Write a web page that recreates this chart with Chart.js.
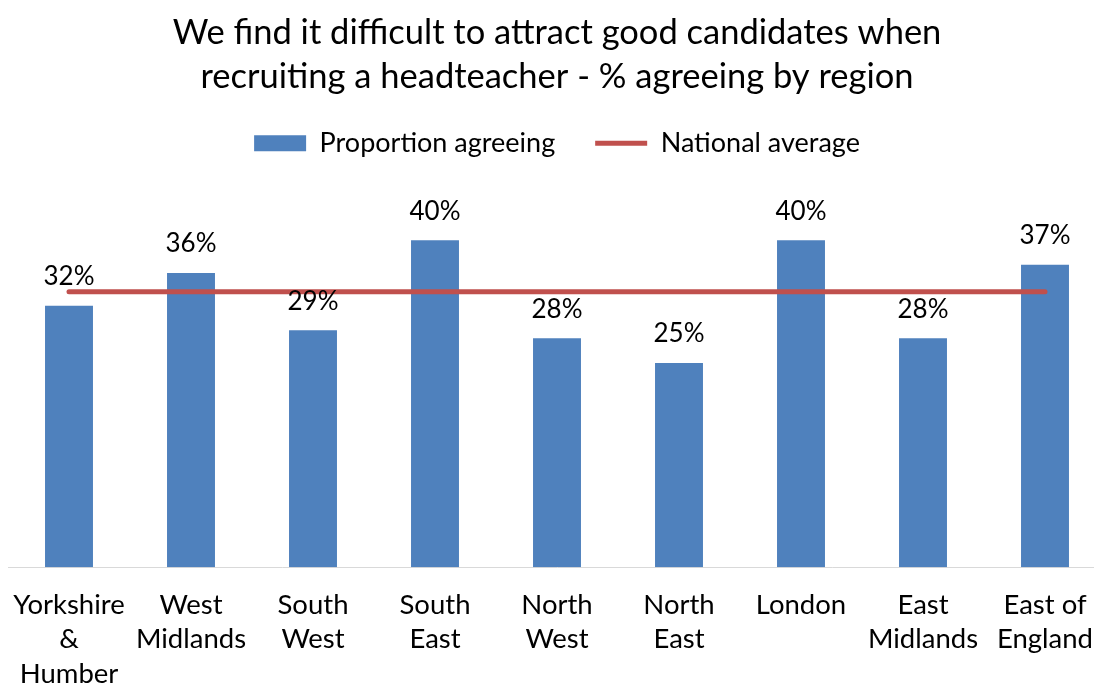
<!DOCTYPE html>
<html>
<head>
<meta charset="utf-8">
<script src="https://cdn.jsdelivr.net/npm/chart.js@4/dist/chart.umd.min.js"></script>
<style>
  html, body { margin: 0; padding: 0; background: #fff; overflow: hidden; }
  #wrap { position: relative; width: 1112px; height: 704px; }
</style>
</head>
<body>
<div id="wrap"><canvas id="chart"></canvas></div>
<script>
// Headteacher recruitment survey — % agreeing by region
const regions = [
  ['Yorkshire', '&', 'Humber'],
  ['West', 'Midlands'],
  ['South', 'West'],
  ['South', 'East'],
  ['North', 'West'],
  ['North', 'East'],
  'London',
  ['East', 'Midlands'],
  ['East of', 'England']
];
const agreeing = [32, 36, 29, 40, 28, 25, 40, 28, 37];
const nationalAverage = [33.7, 33.7, 33.7, 33.7, 33.7, 33.7, 33.7, 33.7, 33.7];

const BLUE = '#4F81BD';
const RED = '#C0504D';
const TEXT = '#000000';
const FONT = "Lato, 'Open Sans', sans-serif";

// value labels above each bar
const barLabels = {
  id: 'barLabels',
  afterDatasetsDraw(chart) {
    const ctx = chart.ctx;
    const meta = chart.getDatasetMeta(0);
    ctx.save();
    ctx.fillStyle = TEXT;
    ctx.font = '26px ' + FONT;
    ctx.textAlign = 'center';
    ctx.textBaseline = 'middle';
    meta.data.forEach((bar, i) => {
      ctx.fillText(Math.round(agreeing[i]) + '%', bar.x, bar.y - 29);
    });
    ctx.restore();
  }
};

new Chart(document.getElementById('chart'), {
  data: {
    labels: regions,
    datasets: [
      {
        type: 'bar',
        label: 'Proportion agreeing',
        data: agreeing,
        backgroundColor: BLUE,
        borderWidth: 0,
        barPercentage: 0.393,
        categoryPercentage: 1,
        pointStyle: 'rect',
        order: 1
      },
      {
        type: 'line',
        label: 'National average',
        data: nationalAverage,
        borderColor: RED,
        backgroundColor: RED,
        borderWidth: 5,
        borderCapStyle: 'round',
        pointRadius: 0,
        pointHoverRadius: 0,
        pointStyle: 'line',
        order: 0
      }
    ]
  },
  options: {
    responsive: true,
    maintainAspectRatio: false,
    animation: false,
    layout: { padding: { left: 8, right: 6, top: 0, bottom: 0 } },
    plugins: {
      title: {
        display: true,
        text: ['We find it difficult to attract good candidates when', 'recruiting a headteacher - % agreeing by region'],
        color: TEXT,
        font: { family: FONT, size: 34.5, weight: 'normal', lineHeight: 1.3 },
        padding: { top: 10, bottom: -10 }
      },
      legend: {
        display: true,
        position: 'top',
        labels: {
          color: TEXT,
          font: { family: FONT, size: 27 },
          usePointStyle: true,
          pointStyleWidth: 52,
          boxHeight: 16,
          padding: 40,
          sort: (a, b) => a.datasetIndex - b.datasetIndex
        }
      },
      tooltip: { enabled: false }
    },
    scales: {
      x: {
        grid: { display: false },
        border: { display: true, color: '#D9D9D9', width: 1 },
        ticks: {
          color: TEXT,
          font: { family: FONT, size: 27.5, lineHeight: 1.27 },
          maxRotation: 0,
          autoSkip: false,
          padding: 12
        }
      },
      y: {
        display: false,
        min: 0,
        max: 49
      }
    }
  },
  plugins: [barLabels]
});
</script>
</body>
</html>
